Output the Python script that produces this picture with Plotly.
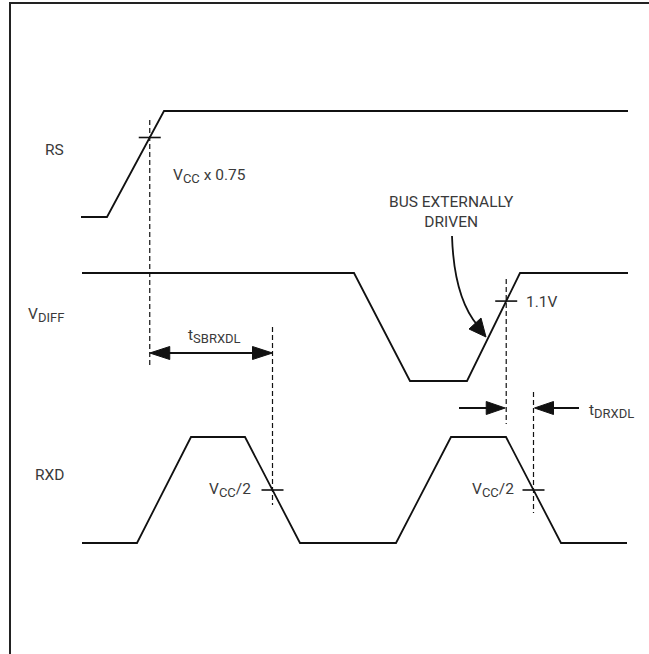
import plotly.graph_objects as go

# ---- waveform data (time units on the horizontal axis, logic levels 0..1) ----
rs_t = [81, 107, 164, 628]
rs_lvl = [0, 0, 1, 1]
vdiff_t = [82, 354, 410, 467, 520, 628]
vdiff_lvl = [1, 1, 0, 0, 1, 1]
rxd_t = [82, 137, 191, 245, 300, 396, 451, 506, 561, 627]
rxd_lvl = [0, 0, 1, 1, 0, 0, 1, 1, 0, 0]

rs_threshold = 0.75          # VCC x 0.75
vdiff_threshold = 0.74       # 1.1V on the differential swing
rxd_threshold = 0.5          # VCC/2

# ---- lane geometry (layout) ----
lanes = {"RS": (217, 111), "VDIFF": (381, 273), "RXD": (543, 437)}  # (low y, high y)

def to_y(lane, lvl):
    lo, hi = lanes[lane]
    return [lo + (hi - lo) * v for v in lvl]

def crossing(t, lvl, thr, which):
    """x of the which-th crossing of threshold thr (linear interpolation)."""
    found = []
    for i in range(len(t) - 1):
        a, b = lvl[i], lvl[i + 1]
        if a != b and min(a, b) <= thr <= max(a, b):
            f = (thr - a) / (b - a)
            found.append(t[i] + f * (t[i + 1] - t[i]))
    return found[which]

INK = "#111111"
TXT = "#3a3a3a"
FONT = "Roboto, Liberation Sans, sans-serif"
FS = 15.5
SUB = 13

def sub(s):
    return f"<sub><span style='font-size:{SUB}px'>{s}</span></sub>"

signal_names = ["RS", "V" + sub("DIFF"), "RXD"]

fig = go.Figure()
for lane, t, lvl in [("RS", rs_t, rs_lvl), ("VDIFF", vdiff_t, vdiff_lvl), ("RXD", rxd_t, rxd_lvl)]:
    fig.add_trace(go.Scatter(x=t, y=to_y(lane, lvl), mode="lines",
                             line=dict(color=INK, width=1.8), hoverinfo="skip",
                             showlegend=False))

shapes = []
# border: only left and top edges are inside the view
shapes.append(dict(type="path", path="M 10,700 L 10,3 L 700,3",
                   line=dict(color="#222222", width=2)))

def vdash(x, y0, y1):
    shapes.append(dict(type="line", x0=x, x1=x, y0=y0, y1=y1,
                       line=dict(color=INK, width=1.2, dash="5px,3px")))

def tick(x, y, half=11):
    shapes.append(dict(type="line", x0=x - half, x1=x + half, y0=y, y1=y,
                       line=dict(color=INK, width=1.6)))

def head(xtip, y, direction, length=20, half=6.5):
    xb = xtip - direction * length
    shapes.append(dict(type="path",
                       path=f"M {xtip},{y} L {xb},{y - half} L {xb},{y + half} Z",
                       fillcolor=INK, line=dict(color=INK, width=1)))

# RS threshold crossing
x_rs = crossing(rs_t, rs_lvl, rs_threshold, 0)
y_rs = to_y("RS", [rs_threshold])[0]
tick(x_rs, y_rs)
vdash(x_rs, 120, 365)

# VDIFF 1.1V crossing (rising edge)
x_vd = crossing(vdiff_t, vdiff_lvl, vdiff_threshold, 1)
y_vd = to_y("VDIFF", [vdiff_threshold])[0]
tick(x_vd, y_vd)
vdash(x_vd, 279, 424)

# RXD VCC/2 crossings (falling edges)
x_r1 = crossing(rxd_t, rxd_lvl, rxd_threshold, 1)
x_r2 = crossing(rxd_t, rxd_lvl, rxd_threshold, 3)
y_r = to_y("RXD", [rxd_threshold])[0]
tick(x_r1, y_r)
tick(x_r2, y_r)
vdash(x_r1, 327, 505)
vdash(x_r2, 392, 513)

# tSBRXDL double arrow
ya = 353
shapes.append(dict(type="line", x0=x_rs + 10, x1=x_r1 - 10, y0=ya, y1=ya,
                   line=dict(color=INK, width=1.8)))
head(x_rs, ya, -1)
head(x_r1, ya, +1)

# tDRXDL arrows
yb = 408
shapes.append(dict(type="line", x0=459, x1=x_vd - 10, y0=yb, y1=yb,
                   line=dict(color=INK, width=1.8)))
head(x_vd - 1, yb, +1, length=19)
shapes.append(dict(type="line", x0=579, x1=x_r2 + 10, y0=yb, y1=yb,
                   line=dict(color=INK, width=1.8)))
head(x_r2 + 1, yb, -1, length=19)

# curved pointer "BUS EXTERNALLY DRIVEN"
shapes.append(dict(type="path", path="M 452,236 Q 454,298 478,326",
                   line=dict(color=INK, width=1.8)))
shapes.append(dict(type="path", path="M 486,337 L 469,329 L 481,318 Z",
                   fillcolor=INK, line=dict(color=INK, width=1)))

annotations = []
def label(x, y, text, xanchor="left", yanchor="middle", align="left"):
    annotations.append(dict(x=x, y=y, text=text, showarrow=False,
                            xanchor=xanchor, yanchor=yanchor, align=align,
                            font=dict(family=FONT, size=FS, color=TXT)))

label(66, 150, signal_names[0], xanchor="right")
label(66, 315, signal_names[1], xanchor="right")
label(66, 475, signal_names[2], xanchor="right")
label(171, 176, "V" + sub("CC") + " x 0.75")
label(451, 212, "BUS EXTERNALLY<br>DRIVEN", xanchor="center", align="center")
label(524, 302, "1.1V")
label(186, 336, "t" + sub("SBRXDL"))
label(587, 411, "t" + sub("DRXDL"))
label(253, 490, "V" + sub("CC") + "/2", xanchor="right")
label(516, 490, "V" + sub("CC") + "/2", xanchor="right")

fig.update_layout(
    width=649, height=654,
    margin=dict(l=0, r=0, t=0, b=0),
    paper_bgcolor="white", plot_bgcolor="white",
    xaxis=dict(range=[0, 649], visible=False, fixedrange=True),
    yaxis=dict(range=[654, 0], visible=False, fixedrange=True),
    shapes=shapes, annotations=annotations, showlegend=False,
)
fig.write_html("out.html", config={"displayModeBar": False},
               post_script="document.documentElement.style.overflow='hidden';"
                           "document.body.style.margin='0';document.body.style.overflow='hidden';")
